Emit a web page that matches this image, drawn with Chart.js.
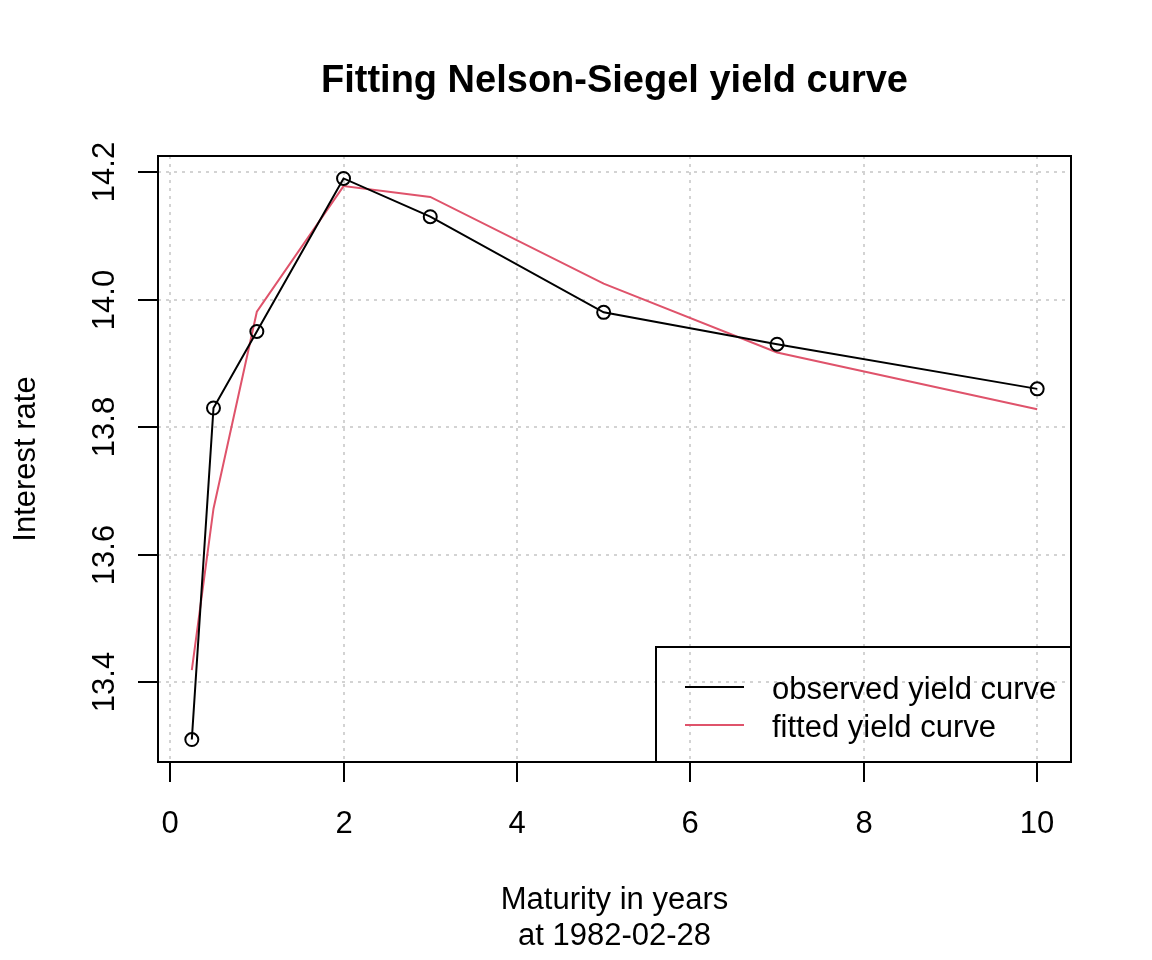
<!DOCTYPE html>
<html>
<head>
<meta charset="utf-8">
<script src="https://cdn.jsdelivr.net/npm/chart.js@4"></script>
<style>
html,body{margin:0;padding:0;background:#fff;}
#wrap{width:1152px;height:960px;position:relative;}
</style>
</head>
<body>
<div id="wrap"><canvas id="c" width="1152" height="960"></canvas></div>
<script>
const maturities = [0.25, 0.5, 1, 2, 3, 5, 7, 10];
const observed = [13.31, 13.83, 13.95, 14.19, 14.13, 13.98, 13.93, 13.86];
const fitted = [13.419, 13.672, 13.981, 14.178, 14.161, 14.025, 13.917, 13.828];
const xTicks = [0, 2, 4, 6, 8, 10];
const yTicks = [13.4, 13.6, 13.8, 14.0, 14.2];
const yTickLabels = ["13.4", "13.6", "13.8", "14.0", "14.2"];
const seriesNames = ["observed yield curve", "fitted yield curve"];
const titleText = "Fitting Nelson-Siegel yield curve";
const xLabelLines = ["Maturity in years", "at 1982-02-28"];
const yLabelText = "Interest rate";

const FONT = '"Liberation Sans", Arial, sans-serif';
const RED = '#DF536B';

function toXY(xs, ys){ return xs.map((x,i)=>({x:x, y:ys[i]})); }

const xmin = Math.min(...maturities), xmax = Math.max(...maturities);
const ymin = Math.min(...observed), ymax = Math.max(...observed);
const xr = (xmax - xmin) * 0.04, yr = (ymax - ymin) * 0.04;

const decor = {
  id: 'decor',
  afterDraw(chart){
    const ctx = chart.ctx, a = chart.chartArea;
    const xs = chart.scales.x, ys = chart.scales.y;
    ctx.save();
    ctx.strokeStyle = '#000'; ctx.lineWidth = 2; ctx.setLineDash([]);
    ctx.strokeRect(a.left, a.top, a.right - a.left, a.bottom - a.top);
    ctx.fillStyle = '#000';
    ctx.font = '31px ' + FONT;
    ctx.textAlign = 'center'; ctx.textBaseline = 'alphabetic';
    xTicks.forEach(t=>{
      const px = Math.round(xs.getPixelForValue(t));
      ctx.beginPath(); ctx.moveTo(px, a.bottom); ctx.lineTo(px, a.bottom + 20); ctx.stroke();
      ctx.fillText(String(t), px, 833);
    });
    yTicks.forEach((t,i)=>{
      const py = Math.round(ys.getPixelForValue(t));
      ctx.beginPath(); ctx.moveTo(a.left, py); ctx.lineTo(a.left - 20, py); ctx.stroke();
      ctx.save(); ctx.translate(114, py); ctx.rotate(-Math.PI/2);
      ctx.fillText(yTickLabels[i], 0, 0); ctx.restore();
    });
    ctx.font = 'bold 38px ' + FONT;
    ctx.fillText(titleText, (a.left + a.right)/2, 92);
    ctx.font = '31px ' + FONT;
    ctx.fillText(xLabelLines[0], (a.left + a.right)/2, 909);
    ctx.fillText(xLabelLines[1], (a.left + a.right)/2, 945);
    ctx.save(); ctx.translate(35, (a.top + a.bottom)/2); ctx.rotate(-Math.PI/2);
    ctx.fillText(yLabelText, 0, 0); ctx.restore();
    // legend
    const lx = 656, ly = 647;
    ctx.lineWidth = 2;
    ctx.strokeRect(lx, ly, a.right - lx, a.bottom - ly);
    const ds = chart.data.datasets;
    const rows = [687, 725];
    ctx.textAlign = 'left';
    ds.forEach((d,i)=>{
      ctx.strokeStyle = d.borderColor; ctx.lineWidth = 2;
      ctx.beginPath(); ctx.moveTo(685, rows[i]); ctx.lineTo(744, rows[i]); ctx.stroke();
      ctx.fillStyle = '#000';
      ctx.fillText(d.label, 772, rows[i] + 12);
    });
    ctx.restore();
  }
};

new Chart(document.getElementById('c'), {
  type: 'scatter',
  data: {
    datasets: [
      { label: seriesNames[0], data: toXY(maturities, observed), showLine: true,
        borderColor: '#000', borderWidth: 2, pointRadius: 6.5, pointHoverRadius: 6.5,
        pointBorderWidth: 2, pointBackgroundColor: 'rgba(0,0,0,0)', pointBorderColor: '#000' },
      { label: seriesNames[1], data: toXY(maturities, fitted), showLine: true,
        borderColor: RED, borderWidth: 2, pointRadius: 0 }
    ]
  },
  plugins: [decor],
  options: {
    responsive: false, animation: false, devicePixelRatio: 1,
    events: [],
    layout: { padding: { left: 158, right: 81, top: 156, bottom: 198 } },
    plugins: { legend: { display: false }, tooltip: { enabled: false }, title: { display: false } },
    scales: {
      x: { type: 'linear', min: xmin - xr, max: xmax + xr,
        afterFit(s){ s.height = 0; },
        afterBuildTicks(s){ s.ticks = xTicks.map(v=>({value:v})); },
        ticks: { display: false },
        border: { display: false, dash: [3,5] },
        grid: { color: '#d3d3d3', lineWidth: 2, drawTicks: false } },
      y: { type: 'linear', min: ymin - yr, max: ymax + yr,
        afterFit(s){ s.width = 0; },
        afterBuildTicks(s){ s.ticks = yTicks.map(v=>({value:v})); },
        ticks: { display: false },
        border: { display: false, dash: [3,5] },
        grid: { color: '#d3d3d3', lineWidth: 2, drawTicks: false } }
    }
  }
});
</script>
</body>
</html>
